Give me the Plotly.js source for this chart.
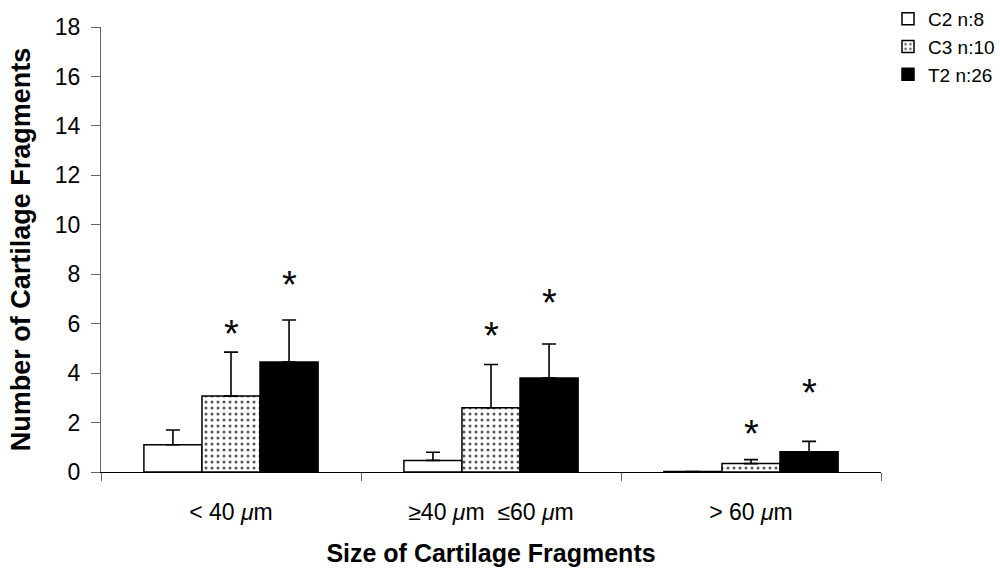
<!DOCTYPE html>
<html>
<head>
<meta charset="utf-8">
<script src="https://cdn.plot.ly/plotly-3.0.1.min.js"></script>
<style>body{margin:0;background:#fff}#chart{width:1000px;height:572px}</style>
</head>
<body>
<div id="chart"></div>
<script>
const categories = ["< 40 <i>μ</i>m", "≥40 <i>μ</i>m\u00a0\u00a0≤60 <i>μ</i>m", "> 60 <i>μ</i>m"];
const seriesNames = ["C2 n:8", "C3 n:10", "T2 n:26"];
const c2Values = [1.1, 0.47, 0.02];
const c2Errors = [0.6, 0.33, 0];
const c3Values = [3.07, 2.6, 0.34];
const c3Errors = [1.78, 1.75, 0.16];
const t2Values = [4.45, 3.8, 0.82];
const t2Errors = [1.7, 1.38, 0.42];
// significance markers (asterisks) height
const c3Star = [5.6, 5.5, 1.55];
const t2Star = [7.55, 6.85, 3.2];

const lineStyle = {color: "#000", width: 1.5};
function errUp(arr){
  return {type: "data", symmetric: false, array: arr, arrayminus: arr.map(()=>0),
          color: "#000", thickness: 1.6, width: 7};
}
const traces = [
  {type: "bar", name: seriesNames[0], x: categories, y: c2Values, error_y: errUp(c2Errors),
   marker: {color: "#fff", line: lineStyle}, legendgroup: "a"},
  {type: "bar", name: seriesNames[1], x: categories, y: c3Values, error_y: errUp(c3Errors),
   marker: {color: "#fff", line: lineStyle,
     pattern: {shape: ".", fgcolor: "#555", bgcolor: "#fff", size: 6, solidity: 0.2}}, legendgroup: "b"},
  {type: "bar", name: seriesNames[2], x: categories, y: t2Values, error_y: errUp(t2Errors),
   marker: {color: "#000", line: lineStyle}, legendgroup: "c"}
];

const annotations = [];
categories.forEach((c, i) => {
  annotations.push({x: c, y: c3Star[i], xref: "x", yref: "y", text: "*", showarrow: false,
    font: {family: "Liberation Sans, Arial", size: 38, color: "#000"}, yanchor: "middle", xshift: 0});
  annotations.push({x: c, y: t2Star[i], xref: "x", yref: "y", text: "*", showarrow: false,
    font: {family: "Liberation Sans, Arial", size: 38, color: "#000"}, yanchor: "middle", xshift: 58});
});

const layout = {
  width: 1000, height: 572,
  margin: {l: 101, r: 119, t: 27, b: 100, autoexpand: false},
  paper_bgcolor: "#fff", plot_bgcolor: "#fff",
  font: {family: "Liberation Sans, Arial, sans-serif", color: "#000"},
  barmode: "group", bargap: 0.33, bargroupgap: 0,
  showlegend: true,
  legend: {xref: "container", yref: "container", x: 0.888, y: 1.0, xanchor: "left", yanchor: "top",
    font: {size: 19, family: "Liberation Sans, Arial"},
    traceorder: "grouped", tracegroupgap: 0, bgcolor: "rgba(0,0,0,0)"},
  xaxis: {
    type: "category", tickson: "boundaries", ticks: "outside", ticklen: 8, tickcolor: "#666",
    showline: true, linecolor: "#000", linewidth: 1, showgrid: false, zeroline: false,
    tickfont: {size: 23}, ticklabelstandoff: 19,
    title: {text: "<b>Size of Cartilage Fragments</b>", font: {size: 25}, standoff: 20}
  },
  yaxis: {
    range: [0, 18], dtick: 2, ticks: "outside", ticklen: 9, tickcolor: "#666",
    showline: true, linecolor: "#666", linewidth: 1, showgrid: false, zeroline: false,
    tickfont: {size: 23}, ticklabelstandoff: 6,
    title: {text: "<b>Number of Cartilage Fragments</b>", font: {size: 27}, standoff: 16}
  },
  annotations: annotations
};
Plotly.newPlot("chart", traces, layout, {displayModeBar: false, staticPlot: true});
</script>
</body>
</html>
